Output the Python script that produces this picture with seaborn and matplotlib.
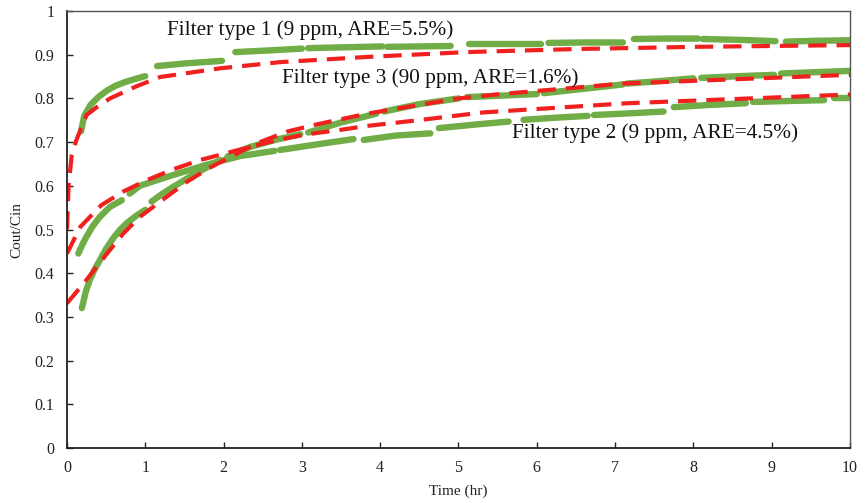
import matplotlib
matplotlib.use("Agg")
import matplotlib.pyplot as plt
import seaborn as sns
import pandas as pd

# ---- measured breakthrough data (each run logged in separate segments) ----
type1_segments = [
    [(0.18, 0.725), (0.22, 0.760), (0.30, 0.785), (0.40, 0.803), (0.51, 0.818), (0.62, 0.829),
     (0.75, 0.838), (0.88, 0.845), (1.00, 0.851)],
    [(1.15, 0.874), (1.50, 0.880), (1.98, 0.886)],
    [(2.15, 0.906), (2.60, 0.910), (3.00, 0.914)],
    [(3.08, 0.915), (3.55, 0.917), (4.03, 0.919)],
    [(4.09, 0.918), (4.50, 0.919), (4.90, 0.920)],
    [(5.13, 0.925), (5.60, 0.925), (6.05, 0.925)],
    [(6.15, 0.927), (6.60, 0.928), (7.10, 0.928)],
    [(7.24, 0.936), (7.65, 0.937), (8.06, 0.937)],
    [(8.12, 0.936), (8.60, 0.934), (9.05, 0.931)],
    [(9.18, 0.930), (9.60, 0.932), (10.0, 0.933)],
]

type2_segments = [
    [(0.145, 0.445), (0.20, 0.467), (0.25, 0.484), (0.33, 0.508), (0.42, 0.529), (0.55, 0.552), (0.70, 0.567)],
    [(0.80, 0.582), (0.93, 0.600), (1.15, 0.613), (1.36, 0.625), (1.78, 0.648), (2.21, 0.668), (2.65, 0.680)],
    [(2.72, 0.682), (3.20, 0.695), (3.66, 0.707)],
    [(3.79, 0.705), (4.20, 0.715), (4.64, 0.720)],
    [(4.75, 0.732), (5.20, 0.740), (5.64, 0.747)],
    [(5.83, 0.751), (6.25, 0.756), (6.65, 0.760)],
    [(6.73, 0.762), (7.20, 0.766), (7.62, 0.770)],
    [(7.75, 0.780), (8.20, 0.785), (8.67, 0.789)],
    [(8.76, 0.792), (9.20, 0.794), (9.67, 0.796)],
    [(9.80, 0.800), (10.0, 0.800)],
]

type3_segments = [
    [(0.19, 0.320), (0.24, 0.358), (0.29, 0.384), (0.35, 0.408), (0.42, 0.430), (0.50, 0.456),
     (0.59, 0.480), (0.67, 0.498), (0.76, 0.514), (0.88, 0.531), (1.00, 0.545)],
    [(1.08, 0.564), (1.22, 0.582), (1.36, 0.598), (1.61, 0.625), (1.96, 0.659)],
    [(2.05, 0.667), (2.34, 0.689), (2.68, 0.706), (2.98, 0.718)],
    [(3.08, 0.722), (3.50, 0.745), (3.95, 0.765)],
    [(4.05, 0.770), (4.50, 0.787), (5.00, 0.800)],
    [(5.11, 0.803), (5.50, 0.806), (6.00, 0.810)],
    [(6.09, 0.812), (6.60, 0.822), (7.10, 0.832)],
    [(7.15, 0.834), (7.60, 0.840), (8.00, 0.846)],
    [(8.10, 0.847), (8.60, 0.851), (9.03, 0.854)],
    [(9.12, 0.857), (9.55, 0.860), (10.0, 0.863)],
]

# ---- model curves ----
fit1_time = [0.0, 0.02, 0.06, 0.12, 0.25, 0.38, 0.55, 0.89, 1.19, 1.96, 2.72, 3.84, 5.10, 6.50, 8.00, 10.0]
fit1_ratio = [0.500, 0.600, 0.670, 0.705, 0.762, 0.780, 0.800, 0.828, 0.849, 0.869, 0.883, 0.895, 0.906, 0.913, 0.918, 0.922]

fit2_time = [0.0, 0.17, 0.44, 0.72, 1.02, 1.36, 1.70, 2.04, 2.42, 2.72, 3.07, 3.49, 3.83, 4.43, 5.32, 7.16, 10.0]
fit2_ratio = [0.445, 0.506, 0.556, 0.587, 0.613, 0.638, 0.659, 0.675, 0.693, 0.706, 0.718, 0.728, 0.737, 0.749, 0.768, 0.789, 0.809]

fit3_time = [0.0, 0.25, 0.52, 0.72, 0.93, 1.23, 1.53, 1.83, 2.13, 2.42, 2.81, 3.15, 3.49, 3.83, 4.26, 5.00, 5.54, 7.10, 10.0]
fit3_ratio = [0.331, 0.385, 0.447, 0.491, 0.529, 0.569, 0.609, 0.642, 0.670, 0.697, 0.724, 0.739, 0.752, 0.765, 0.778, 0.800, 0.810, 0.834, 0.854]

labels = ["Filter type 1 (9 ppm, ARE=5.5%)",
          "Filter type 3 (90 ppm, ARE=1.6%)",
          "Filter type 2 (9 ppm, ARE=4.5%)"]
label_xy = [(1.28, 0.957), (2.75, 0.847), (5.68, 0.720)]

x_ticks = list(range(0, 11))
y_ticks = [0.0, 0.1, 0.2, 0.3, 0.4, 0.5, 0.6, 0.7, 0.8, 0.9, 1.0]
y_tick_labels = ["0", "0.1", "0.2", "0.3", "0.4", "0.5", "0.6", "0.7", "0.8", "0.9", "1"]

GREEN = "#70AD47"
RED = "#F0201E"


def segments_frame(segments, name):
    rows = []
    for k, seg in enumerate(segments):
        for t, r in seg:
            rows.append({"time": t, "ratio": r, "segment": f"{name}-{k}"})
    return pd.DataFrame(rows)


sns.set_theme(style="white")
plt.rcParams["font.family"] = ["Liberation Serif", "DejaVu Serif"]

fig = plt.figure(figsize=(8.59, 5.01), dpi=100)
ax = fig.add_axes([0.078, 0.1058, 0.9115, 0.8722])

for name, segs in (("t1", type1_segments), ("t2", type2_segments), ("t3", type3_segments)):
    df = segments_frame(segs, name)
    sns.lineplot(data=df, x="time", y="ratio", units="segment", estimator=None,
                 color=GREEN, linewidth=4.6, solid_capstyle="round",
                 solid_joinstyle="round", ax=ax, legend=False)

for tx, ry in ((fit1_time, fit1_ratio), (fit2_time, fit2_ratio), (fit3_time, fit3_ratio)):
    sns.lineplot(x=tx, y=ry, color=RED, linewidth=3.0, ax=ax, sort=False,
                 linestyle=(0, (4.4, 2.4)), legend=False)

for text, (tx, ty) in zip(labels, label_xy):
    ax.text(tx, ty, text, fontsize=15.3, color="#111111", ha="left", va="center")

ax.set_xlim(0, 10)
ax.set_ylim(0, 1)
ax.set_xticks(x_ticks)
ax.set_xticklabels([str(v) for v in x_ticks])
ax.set_yticks(y_ticks)
ax.set_yticklabels(y_tick_labels)
ax.tick_params(direction="in", length=4, width=1.0, colors="#222222",
               labelsize=11.5, pad=9, labelcolor="#222222")
ax.tick_params(axis="x", bottom=True)
ax.tick_params(axis="y", left=True)

ax.set_xlabel("Time (hr)", fontsize=11, color="#222222", labelpad=6)
ax.set_ylabel("Cout/Cin", fontsize=11, color="#222222", labelpad=8)

for side in ("left", "bottom"):
    ax.spines[side].set_color("#222222")
    ax.spines[side].set_linewidth(1.3)
for side in ("top", "right"):
    ax.spines[side].set_color("#555555")
    ax.spines[side].set_linewidth(1.0)

fig.savefig("out.png", dpi=100)
